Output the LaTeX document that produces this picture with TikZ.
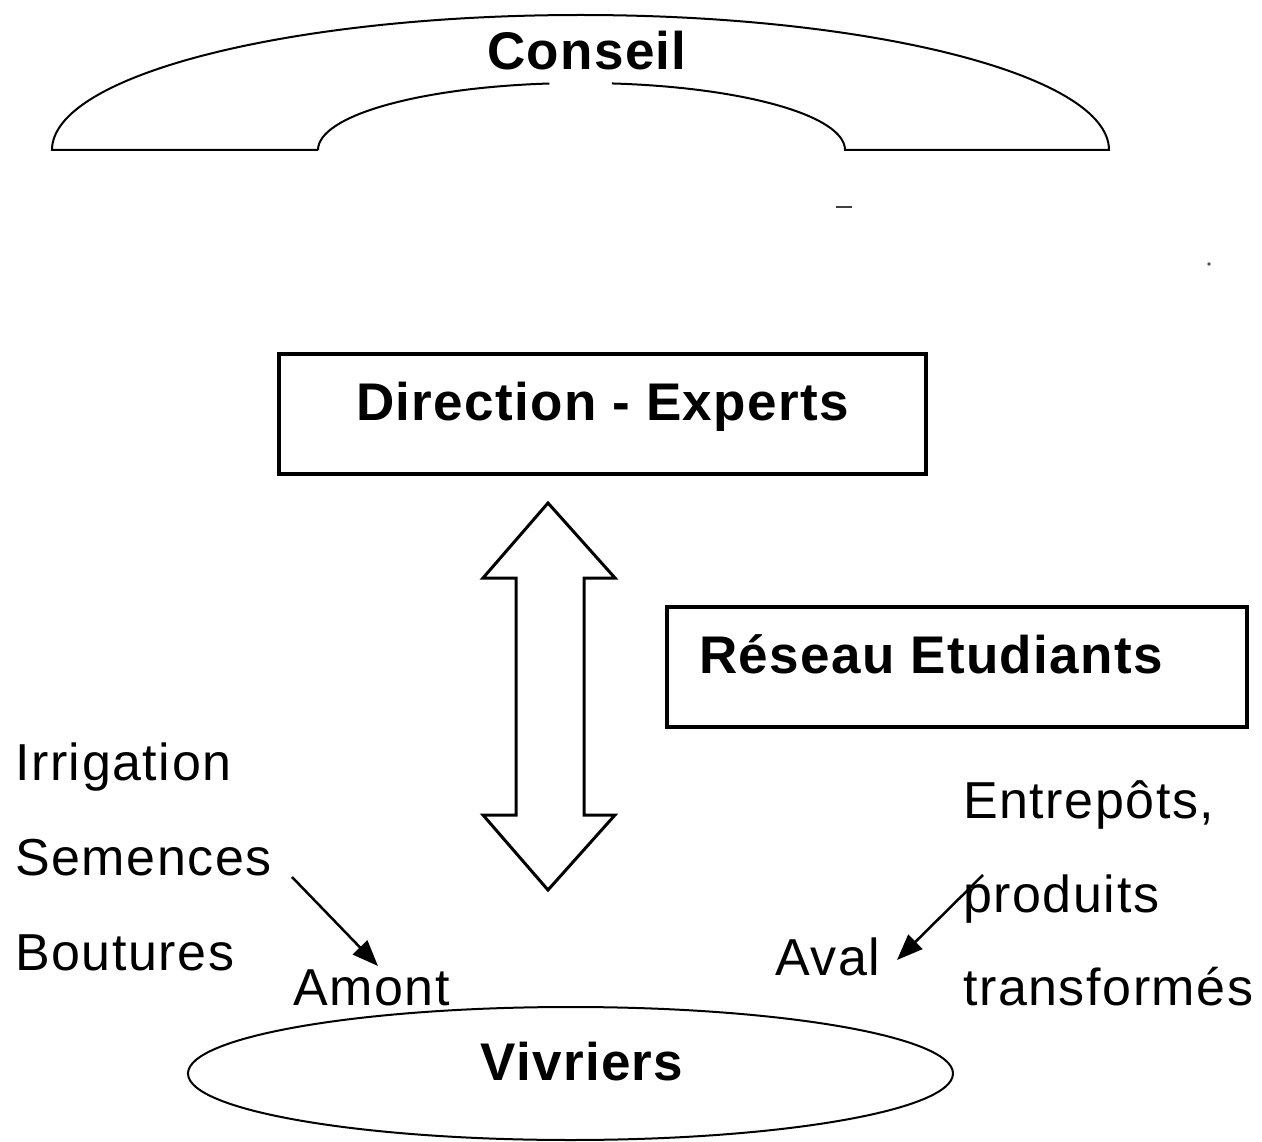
\documentclass[tikz,border=0pt]{standalone}
\usepackage{fontspec}
\setmainfont{Liberation Sans}
\newfontfamily\headfont[LetterSpace=2.5]{Liberation Sans}
\newfontfamily\plainfont[LetterSpace=3]{Liberation Sans}
\usetikzlibrary{shapes.geometric,arrows.meta}

\tikzset{
  heavybox/.style={draw, line width=4pt, minimum width=#1, minimum height=120pt, inner sep=0pt},
  head/.style={font=\headfont\bfseries\fontsize{53}{60}\selectfont, inner sep=0pt, anchor=base},
  plain/.style={font=\plainfont\fontsize{52}{60}\selectfont, inner sep=0pt, anchor=base west},
  thinline/.style={line width=2pt},
  pointer/.style={line width=2.5pt, -{Triangle[length=26pt,width=20pt]}}
}

\begin{document}
\begin{tikzpicture}[x=1pt,y=-1pt]
  \useasboundingbox (0,0) rectangle (1262,1142);

  % Conseil: arch-shaped band
  \draw[thinline] (318,150) -- (52,150)
    arc[start angle=180, end angle=360, x radius=528.5, y radius=135]
    -- (845,150)
    arc[start angle=0, end angle=-83.4, x radius=263.5, y radius=67];
  \draw[thinline] (318,150)
    arc[start angle=180, end angle=263, x radius=263.5, y radius=67];
  \node[head] (conseil) at (587,70) {Conseil};

  % small stray marks
  \draw[line width=2.5pt, black!75] (836,207) -- (852,207);
  \fill[black!70] (1209,264) circle[radius=1.8];

  % Direction box
  \node[heavybox=647pt] (dir) at (602.5,414) {};
  \node[head] (dirtext) at (602.5,420) {Direction - Experts};

  % double arrow between Direction and Vivriers
  \draw[line width=3pt, line join=miter] (548,503) -- (615,578) -- (584,578) -- (584,815)
    -- (615,815) -- (548,890) -- (483,815) -- (516,815) -- (516,578) -- (483,578) -- cycle;

  % Reseau box
  \node[heavybox=580pt] (reseau) at (957,667) {};
  \node[head] (reseautext) at (931,673) {Réseau Etudiants};

  % upstream inputs
  \node[plain] (irrig) at (15,780) {Irrigation};
  \node[plain] (semences) at (15,875) {Semences};
  \node[plain] (boutures) at (15,970) {Boutures};
  \node[plain] (amont) at (293,1005) {Amont};
  \coordinate (semtail) at (292,877);
  \coordinate (amonttip) at (378,966);
  \draw[pointer] (semtail) -- (amonttip);

  % downstream outputs
  \node[plain] (entrepots) at (963,818) {Entrepôts,};
  \node[plain] (produits) at (963,912) {produits};
  \node[plain] (transformes) at (963,1005) {transformés};
  \node[plain] (aval) at (775,975) {Aval};
  \coordinate (avaltail) at (983,875);
  \coordinate (avaltip) at (897,960);
  \draw[pointer] (avaltail) -- (avaltip);

  % Vivriers ellipse
  \node[draw, thinline, ellipse, minimum width=765pt, minimum height=133pt, inner sep=0pt]
    (vivriers) at (570.5,1073.5) {};
  \node[head] (vivtext) at (582,1080) {Vivriers};
\end{tikzpicture}
\end{document}
